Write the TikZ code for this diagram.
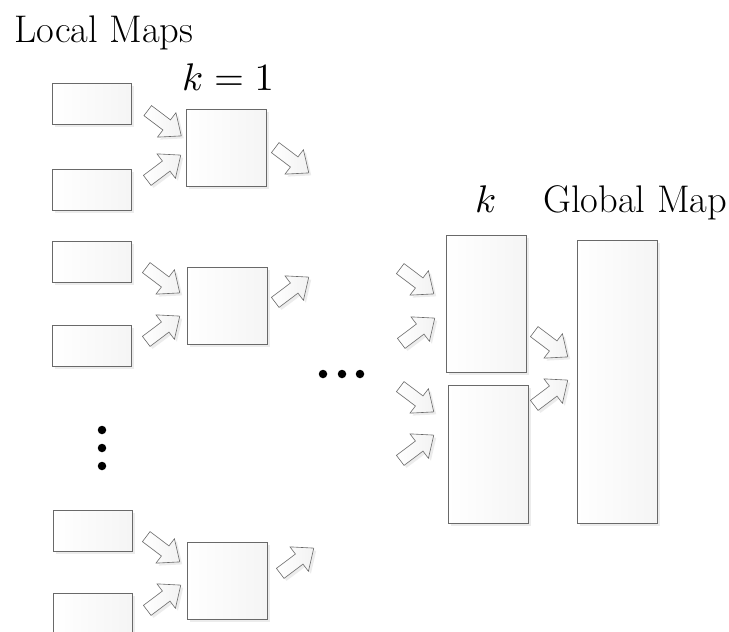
\documentclass[tikz,border=0pt]{standalone}
\usetikzlibrary{shapes.arrows,shadows}
\definecolor{edge}{RGB}{105,105,105}
\tikzset{
  shadowed/.style={drop shadow={shadow xshift=2.5pt,shadow yshift=-2.5pt,opacity=0.15,fill=gray}},
  mapbox/.style={draw=edge,line width=0.7pt,left color=white,right color=gray!8,shadowed,inner sep=0pt},
  smallmap/.style={mapbox,minimum width=79pt,minimum height=41pt},
  squaremap/.style={mapbox,minimum width=80pt,minimum height=77pt},
  blockarrow/.style={single arrow,draw=edge,line width=0.6pt,minimum height=42pt,minimum width=30pt,
    inner sep=6pt,single arrow head extend=9pt,single arrow tip angle=80,
    left color=white,right color=gray!10,shadowed},
  arrowSE/.style={blockarrow,rotate=-37},
  arrowNE/.style={blockarrow,rotate=37},
  label/.style={inner sep=0pt,anchor=base west,font=\fontsize{38.5}{45}\selectfont},
  mathlabel/.style={inner sep=0pt,anchor=base west},
  bigdot/.style={circle,fill=black,inner sep=0pt,minimum size=8.5pt}
}
\begin{document}
\begin{tikzpicture}[x=1pt,y=-1pt]
\useasboundingbox (0,0) rectangle (729,632);
% labels
\node[label] (tlocal) at (14,42) {Local Maps};
\node[mathlabel] (tk1) at (182,90) {\scalebox{3.85}{$k=1$}};
\node[mathlabel] (tk) at (475,212) {\scalebox{3.85}{$k$}};
\node[label] (tglobal) at (543,212) {Global Map};
% group 1
\node[smallmap] (L1) at (91.5,103.5) {};
\node[smallmap] (L2) at (91.5,189.5) {};
\node[squaremap] (S1) at (226.5,147.5) {};
\node[arrowSE] (A1) at (161.5,121) {};
\node[arrowNE] (A2) at (161,170) {};
\node[arrowSE] (A3) at (289,158) {};
% group 2
\node[smallmap] (L3) at (91.5,262) {};
\node[smallmap] (L4) at (91.5,345.5) {};
\node[squaremap] (S2) at (227,306) {};
\node[arrowSE] (B1) at (160,278) {};
\node[arrowNE] (B2) at (160,331) {};
\node[arrowNE] (B3) at (289,292) {};
% group 3
\node[smallmap] (L5) at (92.5,530.5) {};
\node[smallmap] (L6) at (92.5,614) {};
\node[squaremap] (S3) at (227,580.5) {};
\node[arrowSE] (C1) at (160,547) {};
\node[arrowNE] (C2) at (161,600) {};
\node[arrowNE] (C3) at (294,563) {};
% right side
\node[mapbox,minimum width=80pt,minimum height=137pt] (K1) at (486,303.5) {};
\node[mapbox,minimum width=80pt,minimum height=138pt] (K2) at (488,454) {};
\node[mapbox,minimum width=80pt,minimum height=283pt] (G) at (617,381.5) {};
\node[arrowSE] (D1) at (414,279) {};
\node[arrowNE] (D2) at (415,333) {};
\node[arrowSE] (D3) at (414,397) {};
\node[arrowNE] (D4) at (414,450) {};
\node[arrowSE] (E1) at (548,342) {};
\node[arrowNE] (E2) at (548,395) {};
% dots
\node[bigdot] (h1) at (323,374) {};
\node[bigdot] (h2) at (342,374) {};
\node[bigdot] (h3) at (360,374) {};
\node[bigdot] (v1) at (102,430) {};
\node[bigdot] (v2) at (102,448) {};
\node[bigdot] (v3) at (102,466) {};
\end{tikzpicture}
\end{document}
